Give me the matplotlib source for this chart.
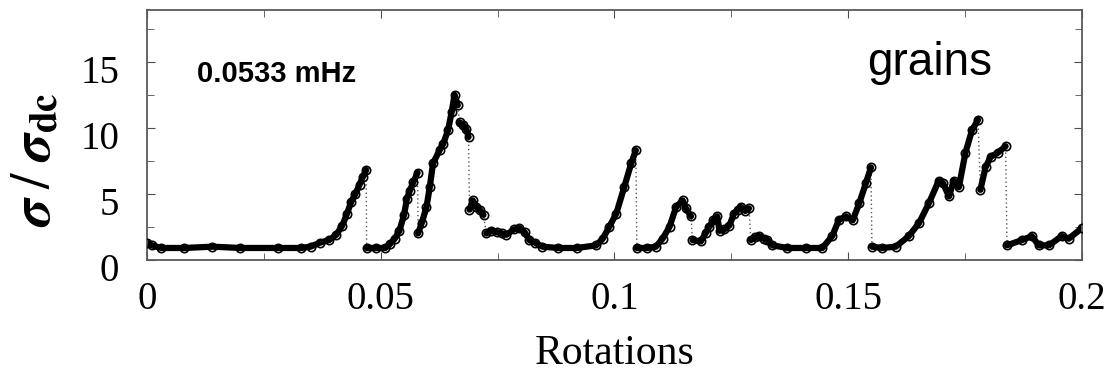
import numpy as np
import matplotlib
matplotlib.use('Agg')
import matplotlib.pyplot as plt
import matplotlib.transforms as mtransforms
from matplotlib.ticker import MultipleLocator

# values (rotations, sigma/sigma_dc)
rot = [0.000, 0.001, 0.003, 0.008, 0.014, 0.020, 0.028, 0.033, 0.035, 0.037,
       0.039, 0.0405, 0.0418, 0.0428, 0.0437, 0.0446, 0.0455, 0.0462, 0.0469,
       0.0470, 0.049, 0.051, 0.052, 0.053, 0.054, 0.055, 0.0556, 0.0562, 0.057, 0.0579,
       0.0580, 0.0588, 0.0598, 0.0605, 0.0612, 0.0626, 0.0634, 0.0644, 0.0652, 0.0658, 0.0665,
       0.0669, 0.0676, 0.0683, 0.0688,
       0.0690, 0.0697, 0.0705, 0.0712, 0.0720,
       0.0726, 0.0735, 0.0748, 0.0760, 0.0769, 0.0785, 0.0797, 0.0808, 0.0818, 0.0830,
       0.0846, 0.088, 0.092, 0.0961, 0.0975, 0.0989, 0.1004, 0.1021, 0.1036, 0.1046,
       0.1048, 0.107, 0.1089, 0.1103, 0.1118, 0.1132, 0.1146, 0.1153, 0.1164,
       0.1167, 0.1185, 0.1195, 0.1203, 0.1212, 0.1220, 0.1225, 0.1235, 0.1246, 0.1256,
       0.1265, 0.1271, 0.1280, 0.1288,
       0.1292, 0.1300, 0.1310, 0.1320, 0.1327, 0.1338, 0.137, 0.141, 0.1445, 0.1466,
       0.1480, 0.1495, 0.151, 0.1524, 0.1538, 0.1549,
       0.1551, 0.1573, 0.1602, 0.163, 0.1652, 0.1673, 0.1694, 0.1703, 0.1716, 0.1726,
       0.1737, 0.1751, 0.1765, 0.1778,
       0.1783, 0.1794, 0.1805, 0.1820, 0.1837,
       0.1840, 0.1872, 0.1893, 0.1908, 0.193, 0.1957, 0.1972, 0.2]
sigma = [1.3, 1.1, 0.9, 0.9, 1.0, 0.9, 0.9, 0.9, 1.0, 1.3,
         1.5, 1.9, 2.6, 3.5, 4.4, 5.0, 5.7, 6.3, 6.8,
         0.9, 0.9, 0.9, 1.2, 1.6, 2.2, 3.4, 4.6, 5.2, 5.9, 6.6,
         2.0, 2.8, 4.0, 5.5, 7.3, 8.3, 8.8, 9.8, 11.2, 12.5, 11.7,
         10.4, 10.2, 9.9, 9.3,
         3.8, 4.5, 4.0, 3.8, 3.4,
         2.0, 2.2, 2.1, 2.0, 1.9, 2.3, 2.4, 2.1, 1.5, 1.3,
         1.0, 0.9, 0.9, 1.1, 1.6, 2.5, 3.5, 5.5, 7.3, 8.3,
         0.9, 0.9, 1.0, 1.6, 2.5, 4.0, 4.5, 3.9, 3.3,
         1.5, 1.4, 2.0, 2.5, 3.0, 3.3, 2.2, 2.3, 2.6, 3.5,
         3.8, 4.0, 3.7, 3.9,
         1.5, 1.7, 1.8, 1.6, 1.5, 1.1, 0.9, 0.9, 0.9, 1.8,
         3.0, 3.3, 3.0, 4.3, 5.8, 7.0,
         1.0, 0.9, 1.0, 1.8, 2.8, 4.3, 6.0, 5.8, 4.8, 6.0,
         5.5, 8.1, 9.8, 10.6,
         5.3, 7.0, 7.8, 8.1, 8.6,
         1.1, 1.5, 1.8, 1.1, 1.1, 1.8, 1.6, 2.4]
# last point before each sudden drop (joined by a dotted line)
drops = [0.0469, 0.0579, 0.0665, 0.0688, 0.0720, 0.1046, 0.1164, 0.1288, 0.1549, 0.1778, 0.1837]

rot = np.array(rot)
sigma = np.array(sigma)

serif = 'Liberation Serif'
sans = 'Liberation Sans'
plt.rcParams['mathtext.fontset'] = 'stix'

fig = plt.figure(figsize=(11.05, 3.75), dpi=100)
ax = fig.add_axes([0.133, 0.307, 0.846, 0.666])

# whole series with dotted joins, then the continuous runs drawn heavy
ax.plot(rot, sigma, linestyle=(0, (1, 2)), color='0.35', lw=1.0, zorder=1)
cuts = [int(np.where(rot == d)[0][0]) + 1 for d in drops]
start = 0
for c in cuts + [len(rot)]:
    ax.plot(rot[start:c], sigma[start:c], '-', color='black', lw=4.5,
            solid_capstyle='round', zorder=2)
    ax.plot(rot[start:c], sigma[start:c], 'o', mfc='none', mec='black',
            ms=6, mew=1.2, zorder=3)
    start = c

ax.set_xlim(0, 0.2)
ax.set_ylim(0, 18.9)
ax.xaxis.set_minor_locator(MultipleLocator(0.025))
ax.yaxis.set_major_locator(MultipleLocator(5))
ax.yaxis.set_minor_locator(MultipleLocator(2.5))
ax.set_xticks([0, 0.05, 0.1, 0.15, 0.2])
ax.set_xticklabels(['0', '0.05', '0.1', '0.15', '0.2'])
ax.tick_params(which='both', direction='in', top=True, right=True, color='0.3')
ax.tick_params(which='major', length=6)
ax.tick_params(which='minor', length=5)
ax.tick_params(axis='x', pad=15)
ax.tick_params(axis='y', pad=20)
shift = mtransforms.ScaledTranslation(0, -0.07, fig.dpi_scale_trans)
for lab in ax.get_xticklabels() + ax.get_yticklabels():
    lab.set_fontfamily(serif)
    lab.set_fontsize(28)
for lab in ax.get_yticklabels():
    lab.set_transform(lab.get_transform() + shift)
for sp in ax.spines.values():
    sp.set_color('0.35')
    sp.set_linewidth(1.3)

ax.set_xlabel('Rotations', fontfamily=serif, fontsize=30)
ax.xaxis.set_label_coords(0.5, -0.30)
ax.set_ylabel(r'$\boldsymbol{\sigma}\;/\;\boldsymbol{\sigma}_{\mathbf{dc}}$', fontsize=40)
ax.yaxis.set_label_coords(-0.091, 0.40)

ax.text(0.053, 0.712, '0.0533 mHz', transform=ax.transAxes, fontfamily=sans,
        fontweight='bold', fontsize=21, va='baseline', ha='left')
ax.text(0.770, 0.74, 'grains', transform=ax.transAxes, fontfamily=sans,
        fontsize=33, va='baseline', ha='left')

fig.savefig('out.png', dpi=100)
